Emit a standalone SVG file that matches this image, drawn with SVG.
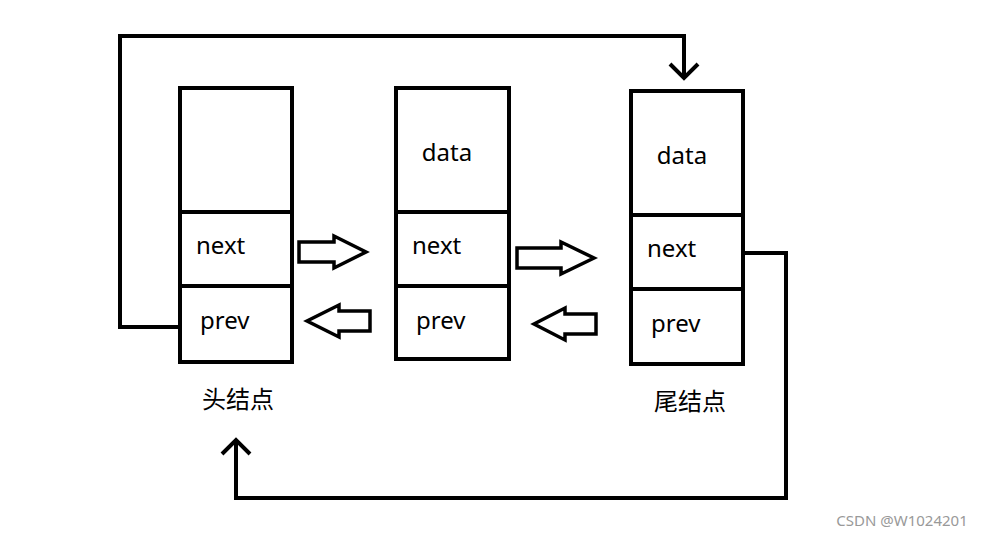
<svg xmlns="http://www.w3.org/2000/svg" width="1003" height="536" viewBox="0 0 1003 536">
<style>
.box{fill:none;stroke:#000;stroke-width:4}
.ln{fill:none;stroke:#000;stroke-width:4}
.ha{fill:#fff;stroke:#000;stroke-width:3.5;stroke-linejoin:miter}
text{font-family:"Microsoft YaHei","Noto Sans","Noto Sans CJK SC",sans-serif;font-size:24px;fill:#000}
.wm{font-size:15px;fill:#999}
</style>
<rect width="1003" height="536" fill="#fff"/>
<g id="head">
<rect class="box" x="180" y="88" width="112" height="274"/>
<line class="ln" x1="180" y1="212" x2="292" y2="212"/>
<line class="ln" x1="180" y1="286" x2="292" y2="286"/>
<text x="196" y="254">next</text>
<text x="200" y="329">prev</text>
<text x="238" y="408" text-anchor="middle">头结点</text>
</g>
<g id="mid">
<rect class="box" x="396" y="88" width="113" height="271"/>
<line class="ln" x1="396" y1="212" x2="509" y2="212"/>
<line class="ln" x1="396" y1="286" x2="509" y2="286"/>
<text x="447" y="161" text-anchor="middle">data</text>
<text x="412" y="254">next</text>
<text x="416" y="329">prev</text>
</g>
<g id="tail">
<rect class="box" x="631" y="91" width="112" height="273"/>
<line class="ln" x1="631" y1="215" x2="743" y2="215"/>
<line class="ln" x1="631" y1="289" x2="743" y2="289"/>
<text x="682" y="164" text-anchor="middle">data</text>
<text x="647" y="257">next</text>
<text x="651" y="332">prev</text>
<text x="690" y="410" text-anchor="middle">尾结点</text>
</g>
<g id="connectors">
<polygon class="ha" points="299,242 334,242 334,236 366,252 334,268 334,262 299,262"/>
<polygon class="ha" points="517,248 561,248 561,242 594,258 561,274 561,268 517,268"/>
<polygon class="ha" points="370,311 339,311 339,305 307,321 339,337 339,331 370,331"/>
<polygon class="ha" points="596,314 565,314 565,308 534,324 565,340 565,334 596,334"/>
<polyline class="ln" points="180,327 120,327 120,36 684,36 684,78"/>
<polyline class="ln" points="670,64 684,78 698,64"/>
<polyline class="ln" points="743,253 786,253 786,498 236,498 236,440"/>
<polyline class="ln" points="222,454 236,440 250,454"/>
</g>
<text class="wm" x="902" y="526" text-anchor="middle">CSDN @W1024201</text>
</svg>
